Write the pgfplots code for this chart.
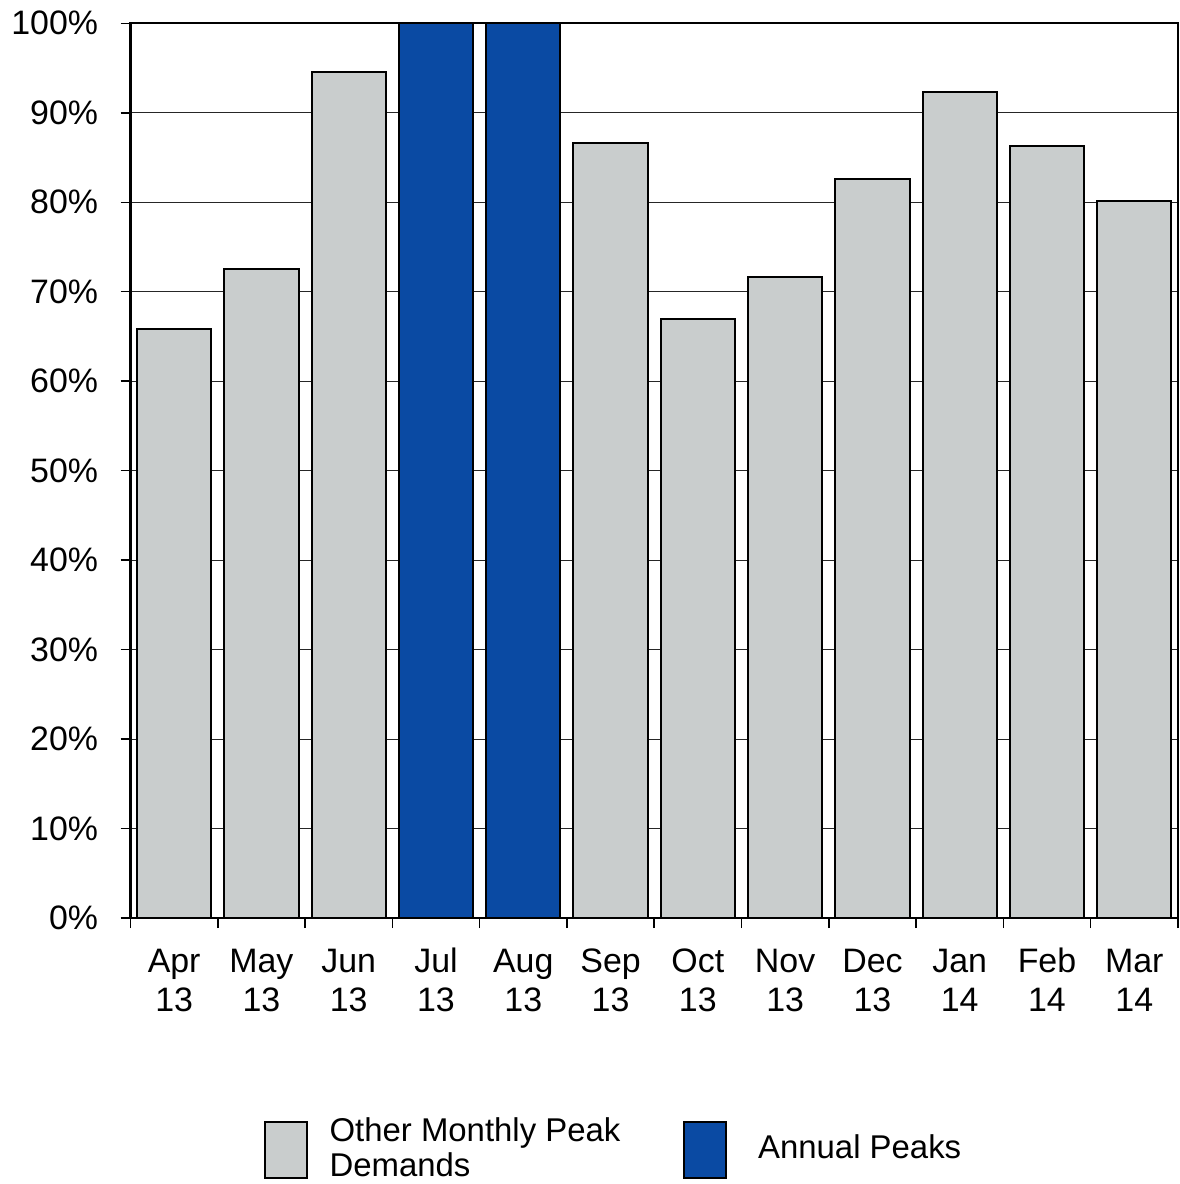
\documentclass[border=0pt]{standalone}
\usepackage{fontspec}
\setmainfont{Liberation Sans}
\usepackage{pgfplots}
\pgfplotsset{compat=1.18}
\definecolor{barGray}{RGB}{201,205,205}
\definecolor{barBlue}{RGB}{10,74,163}
\begin{document}
\fontsize{34}{39}\selectfont
\begin{tikzpicture}
\begin{axis}[
  scale only axis, width=1050pt, height=897pt,
  xmin=-0.5, xmax=11.5, ymin=0, ymax=100,
  clip=false,
  ybar, bar width=0.85, bar shift=0pt,
  xtick={-0.5,0.5,...,10.5},
  minor xtick={11.5},
  xticklabels={{\strut Apr\\13},{\strut May\\13},{\strut Jun\\13},{\strut Jul\\13},{\strut Aug\\13},{\strut Sep\\13},{\strut Oct\\13},{\strut Nov\\13},{\strut Dec\\13},{\strut Jan\\14},{\strut Feb\\14},{\strut Mar\\14}},
  major tick length=10pt, minor tick length=10pt,
  tick align=outside,
  xtick pos=bottom, ytick pos=left,
  ytick={0,10,...,100},
  yticklabels={0\%,10\%,20\%,30\%,40\%,50\%,60\%,70\%,80\%,90\%,100\%},
  tick label style={font=\fontsize{34}{39}\selectfont},
  xticklabel style={align=center, anchor=north, xshift=43.75pt, yshift=-6pt},
  yticklabel style={anchor=east, xshift=-11pt},
  tick style={line width=1.5pt, black},
  axis line style={line width=2.2pt, black},
  ymajorgrids, xmajorgrids=false, xminorgrids=false,
  major grid style={line width=1.1pt, black!85},
  legend columns=2,
  legend style={at={(0.127,-0.22)}, anchor=north west, draw=none, fill=none,
    inner sep=0pt, font=\fontsize{33}{36}\selectfont,
    cells={anchor=west, align=left},
    /tikz/column 1/.style={column sep=20pt},
    /tikz/column 2/.style={column sep=61pt},
    /tikz/column 3/.style={column sep=29pt}},
  legend image code/.code={\draw[#1, line width=2pt, draw=black] (0pt,-28pt) rectangle (42pt,28pt);},
]
\addplot[fill=barGray, draw=black, line width=2pt] coordinates {
  (0,65.8) (1,72.5) (2,94.6) (5,86.6) (6,66.9) (7,71.7) (8,82.6) (9,92.3) (10,86.3) (11,80.1)};
\addlegendentry{Other Monthly Peak\\Demands}
\addplot[fill=barBlue, draw=black, line width=2pt] coordinates {(3,100) (4,100)};
\addlegendentry{Annual Peaks}
\path (rel axis cs:-0.12,1.0234) rectangle (rel axis cs:1.0019,-0.2965);
\end{axis}
\end{tikzpicture}
\end{document}
